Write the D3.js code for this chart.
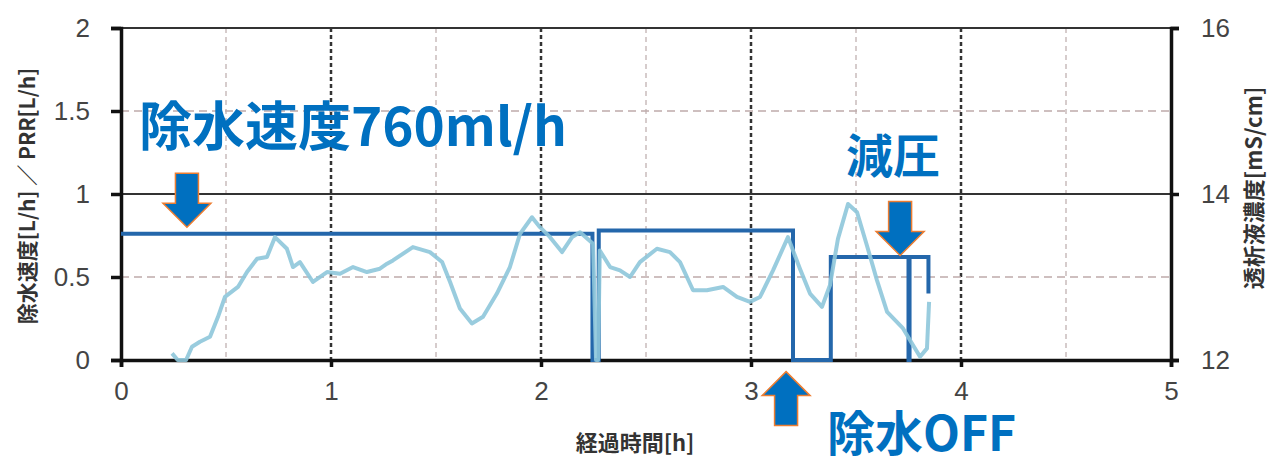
<!DOCTYPE html>
<html><head><meta charset="utf-8">
<script src="https://cdn.jsdelivr.net/npm/d3@7"></script>
<style>
html,body{margin:0;padding:0;background:#fff;}
svg{display:block;}
</style></head>
<body>
<svg id="chart" width="1272" height="458"></svg>
<script>
// ---- data ----
const xTicks = [0, 1, 2, 3, 4, 5];
const yLeftTicks = [0, 0.5, 1, 1.5, 2];
const yRightTicks = [12, 14, 16];
const xTitle = "経過時間[h]";
const yLeftTitle = "除水速度[L/h] ／ PRR[L/h]";
const yRightTitle = "透析液濃度[mS/cm]";

// 除水速度 (step line corners)
const rateTime  = [0,    2.245, 2.245, 2.275, 2.275, 3.2,  3.2, 3.38, 3.38, 3.75, 3.75, 3.755, 3.755, 3.845, 3.845];
const rateValue = [0.76, 0.76,  0,     0,     0.78,  0.78, 0,   0,    0.62, 0.62, 0,    0,     0.62,  0.62,  0.40];

// PRR (light line)
const prrTime  = [0.243,0.27,0.31,0.338,0.376,0.424,0.462,0.495,0.557,0.6,0.648,0.695,0.733,0.79,0.819,0.852,0.914,0.981,1.043,1.105,1.171,1.233,1.267,1.295,1.39,1.471,1.529,1.567,1.614,1.671,1.724,1.79,1.852,1.9,1.957,1.995,2.043,2.1,2.148,2.186,2.248,2.262,2.272,2.28,2.329,2.376,2.424,2.471,2.552,2.614,2.662,2.724,2.79,2.867,2.933,2.995,3.043,3.105,3.176,3.233,3.281,3.338,3.376,3.414,3.462,3.505,3.552,3.6,3.648,3.724,3.771,3.805,3.838,3.848];
const prrValue = [0.04,0.0,0.0,0.08,0.11,0.14,0.26,0.38,0.44,0.53,0.61,0.62,0.74,0.67,0.56,0.59,0.47,0.53,0.52,0.56,0.53,0.55,0.58,0.60,0.68,0.65,0.59,0.47,0.31,0.22,0.26,0.40,0.56,0.76,0.86,0.80,0.74,0.65,0.74,0.77,0.70,0.0,0.0,0.66,0.56,0.54,0.50,0.59,0.67,0.65,0.59,0.42,0.42,0.44,0.38,0.35,0.38,0.54,0.74,0.55,0.40,0.32,0.45,0.73,0.94,0.89,0.69,0.48,0.29,0.19,0.09,0.02,0.07,0.35];

// annotations: label text and arrow tips in data units
const labelTexts = ["除水速度760ml/h", "減圧", "除水OFF"];
const arrowTips = [[0.314, 0.80, "down"], [3.71, 0.63, "down"], [3.167, -0.07, "up"]];

// ---- drawing ----
const svg = d3.select("#chart");
const x = d3.scaleLinear().domain([0, 5]).range([121, 1171]);
const y = d3.scaleLinear().domain([0, 2]).range([360, 28]);
const yR = d3.scaleLinear().domain([12, 16]).range([360, 28]);

const tickFont = "'Liberation Sans', Arial, sans-serif";
const cjkFont = "'Noto Sans CJK JP', 'Noto Sans', sans-serif";

// gridlines vertical
const halfX = d3.range(0.5, 5, 0.5);
svg.append("g").selectAll("line").data(halfX).join("line")
  .attr("x1", d => x(d)).attr("x2", d => x(d))
  .attr("y1", y(2)).attr("y2", y(0))
  .attr("stroke", d => Number.isInteger(d) ? "#333" : "#c9bcbc")
  .attr("stroke-width", d => Number.isInteger(d) ? 2.5 : 1.5)
  .attr("stroke-dasharray", d => Number.isInteger(d) ? "4,3" : "5,4");

// gridlines horizontal
svg.append("g").selectAll("line").data([0.5, 1, 1.5, 2]).join("line")
  .attr("x1", x(0)).attr("x2", x(5))
  .attr("y1", d => y(d)).attr("y2", d => y(d))
  .attr("stroke", d => Number.isInteger(d) ? "#333" : "#bfaaaa")
  .attr("stroke-width", d => Number.isInteger(d) ? 2 : 1.5)
  .attr("stroke-dasharray", d => Number.isInteger(d) ? null : "8,5");

// axes
const axL = svg.append("g").attr("transform", `translate(${x(0)},0)`)
  .call(d3.axisLeft(y).tickValues(yLeftTicks).tickFormat(d3.format("")).tickSize(10).tickPadding(21));
const axB = svg.append("g").attr("transform", `translate(0,${y(0)})`)
  .call(d3.axisBottom(x).tickValues(xTicks).tickFormat(d3.format("d")).tickSize(7).tickPadding(20));
const axR = svg.append("g").attr("transform", `translate(${x(5)},0)`)
  .call(d3.axisRight(yR).tickValues(yRightTicks).tickFormat(d3.format("d")).tickSize(8).tickPadding(22));
[axL, axB, axR].forEach(a => {
  a.select(".domain").attr("stroke", "#111").attr("stroke-width", 3.5);
  a.selectAll(".tick line").attr("stroke", "#111").attr("stroke-width", 3.5);
  a.selectAll(".tick text").attr("fill", "#444").style("font-family", tickFont).style("font-size", "26px");
});
axB.selectAll(".tick text").attr("dy", "0.5em");

// axis titles
svg.append("text").attr("transform", `translate(26,196) rotate(-90)`)
  .attr("text-anchor", "middle").attr("dominant-baseline", "central")
  .style("font-family", cjkFont).style("font-size", "21px").style("font-weight", "700").attr("fill", "#333")
  .text(yLeftTitle);
svg.append("text").attr("transform", `translate(1252,188) rotate(-90)`)
  .attr("text-anchor", "middle").attr("dominant-baseline", "central")
  .style("font-family", cjkFont).style("font-size", "22px").style("font-weight", "700").attr("fill", "#333")
  .text(yRightTitle);
svg.append("text").attr("x", 635).attr("y", 441)
  .attr("text-anchor", "middle").attr("dominant-baseline", "central")
  .style("font-family", cjkFont).style("font-size", "22px").style("font-weight", "700").attr("fill", "#333")
  .text(xTitle);

// series
const rateData = rateTime.map((t, i) => [t, rateValue[i]]);
const prrData = prrTime.map((t, i) => [t, prrValue[i]]);
const line = d3.line().x(d => x(d[0])).y(d => y(d[1]));

svg.append("path").datum(rateData).attr("d", line)
  .attr("fill", "none").attr("stroke", "#2467ab").attr("stroke-width", 4).attr("stroke-linejoin", "miter");
svg.append("path").datum(prrData).attr("d", line)
  .attr("fill", "none").attr("stroke", "#8ec6da").attr("stroke-width", 4).attr("stroke-opacity", 0.9)
  .attr("stroke-linejoin", "round");

// annotation labels
const blue = "#0070C0";
const lab = svg.append("g").style("font-family", cjkFont).style("font-weight", "700").attr("fill", blue);
lab.append("text").attr("x", 139).attr("y", 146).style("font-size", "53px").text(labelTexts[0]);
lab.append("text").attr("x", 846).attr("y", 173).style("font-size", "47px").text(labelTexts[1]);
lab.append("text").attr("x", 827).attr("y", 451).style("font-size", "48px").text(labelTexts[2]);

// arrows
function arrowPts(tx, ty, dir) {
  const s = dir === "down" ? -1 : 1; // direction from tip toward tail
  const hw = 24, sw = 11.5, hl = 24, len = 54;
  return [[tx, ty], [tx + hw, ty + s*hl], [tx + sw, ty + s*hl], [tx + sw, ty + s*len],
          [tx - sw, ty + s*len], [tx - sw, ty + s*hl], [tx - hw, ty + s*hl]];
}
svg.append("g").selectAll("polygon").data(arrowTips).join("polygon")
  .attr("points", d => arrowPts(x(d[0]), y(d[1]), d[2]).map(p => p.join(",")).join(" "))
  .attr("fill", blue).attr("stroke", "#ED7D31").attr("stroke-width", 1.5);
</script>
</body></html>
